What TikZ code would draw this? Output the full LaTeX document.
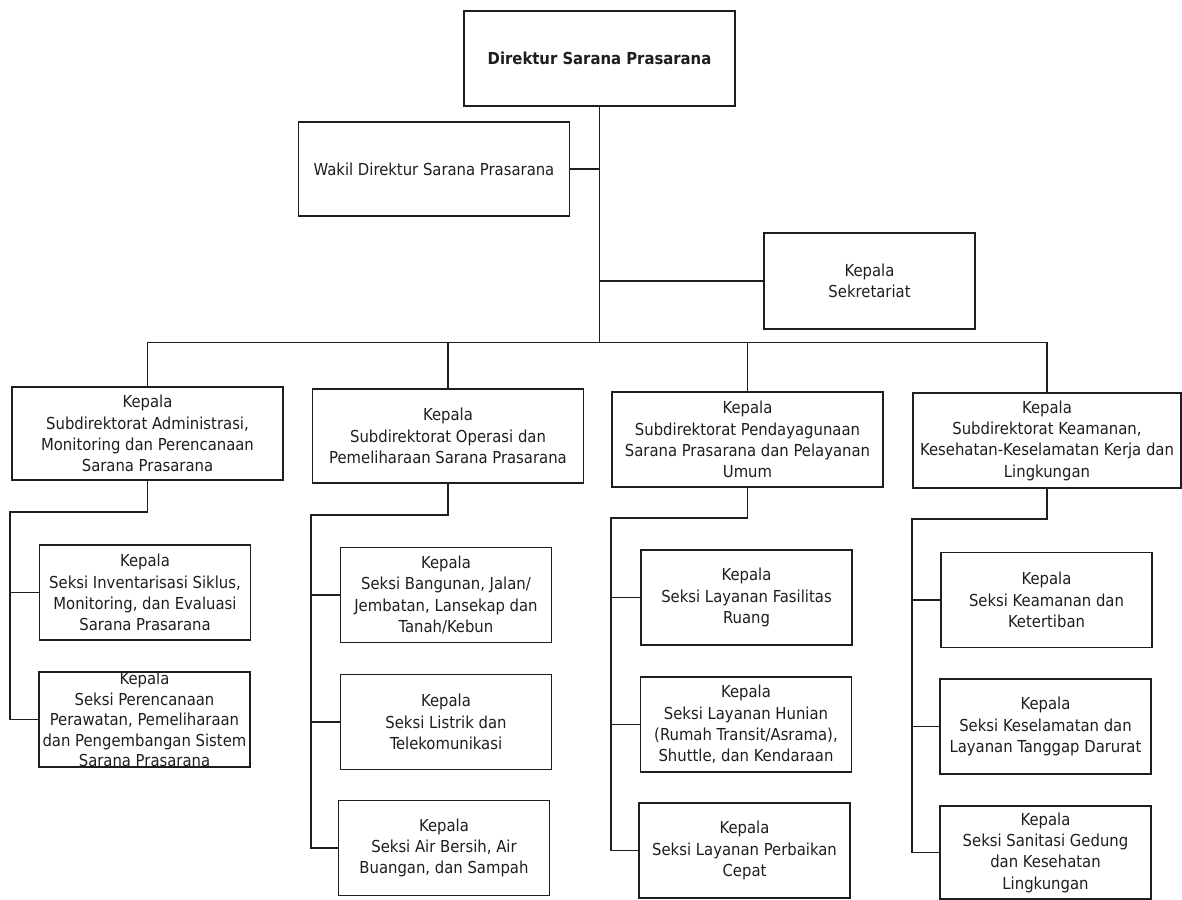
\documentclass[tikz,border=0pt]{standalone}
\usepackage{fontspec}
\setmainfont{DejaVu Sans Condensed}
\definecolor{ink}{HTML}{1E1E1E}
\begin{document}
\begin{tikzpicture}[x=1pt,y=-1pt,
  box/.style={draw=ink, line width=1.2pt, text=ink, align=center, inner sep=0pt,
              font=\fontsize{16.5}{21.3}\selectfont},
  unitbox/.style={box, minimum width=271pt, minimum height=94pt},
  secbox/.style={box, minimum width=211pt, minimum height=95pt},
  link/.style={draw=ink, line width=1.2pt}]
\useasboundingbox (0,0) rectangle (1182,899);

% top level
\node[box, minimum width=271pt, minimum height=95pt,
      font=\fontsize{16.5}{21.3}\selectfont\bfseries] (dir) at (599.5,58.5) {Direktur Sarana Prasarana};
\node[unitbox] (wakil) at (434,169) {Wakil Direktur Sarana Prasarana};
\node[secbox, minimum height=96pt] (sek) at (869.5,281) {Kepala\\Sekretariat};

% subdirectorates
\node[unitbox, minimum height=93pt] (s1) at (147.5,433.5) {Kepala\\Subdirektorat Administrasi,\\Monitoring dan Perencanaan\\Sarana Prasarana};
\node[unitbox] (s2) at (448,436) {Kepala\\Subdirektorat Operasi dan\\Pemeliharaan Sarana Prasarana};
\node[unitbox, minimum height=95pt] (s3) at (747.5,439.5) {Kepala\\Subdirektorat Pendayagunaan\\Sarana Prasarana dan Pelayanan\\Umum};
\node[unitbox, minimum width=268pt, minimum height=95pt] (s4) at (1047,440.5) {Kepala\\Subdirektorat Keamanan,\\Kesehatan-Keselamatan Kerja dan\\Lingkungan};

% sections
\node[secbox] (c1a) at (145,592.5) {Kepala\\Seksi Inventarisasi Siklus,\\Monitoring, dan Evaluasi\\Sarana Prasarana};
\node[secbox, font=\fontsize{16.5}{20.5}\selectfont] (c1b) at (144.5,719.5) {Kepala\\Seksi Perencanaan\\Perawatan, Pemeliharaan\\dan Pengembangan Sistem\\Sarana Prasarana};

\node[secbox] (c2a) at (446,595) {Kepala\\Seksi Bangunan, Jalan/\\Jembatan, Lansekap dan\\Tanah/Kebun};
\node[secbox] (c2b) at (446,722) {Kepala\\Seksi Listrik dan\\Telekomunikasi};
\node[secbox] (c2c) at (444,848) {Kepala\\Seksi Air Bersih, Air\\Buangan, dan Sampah};

\node[secbox] (c3a) at (746.5,597.5) {Kepala\\Seksi Layanan Fasilitas\\Ruang};
\node[secbox] (c3b) at (746,724.5) {Kepala\\Seksi Layanan Hunian\\(Rumah Transit/Asrama),\\Shuttle, dan Kendaraan};
\node[secbox] (c3c) at (744.5,850.5) {Kepala\\Seksi Layanan Perbaikan\\Cepat};

\node[secbox] (c4a) at (1046.5,600) {Kepala\\Seksi Keamanan dan\\Ketertiban};
\node[secbox] (c4b) at (1045.5,726.5) {Kepala\\Seksi Keselamatan dan\\Layanan Tanggap Darurat};
\node[secbox, minimum height=93pt] (c4c) at (1045.5,852.5) {Kepala\\Seksi Sanitasi Gedung\\dan Kesehatan\\Lingkungan};

% main trunk and bus
\coordinate (bus) at (599.5,342.5);
\draw[link] (dir.south) -- (bus);
\draw[link] (wakil.east) -- (wakil.east -| dir.south);
\draw[link] (sek.west) -- (sek.west -| dir.south);
\draw[link] (s1.north) |- (bus) -| (s4.north);
\draw[link] (s2.north) -- (s2.north |- bus);
\draw[link] (s3.north) -- (s3.north |- bus);

% section spines
\coordinate (j1) at (10,512);
\coordinate (j2) at (311,515);
\coordinate (j3) at (611,518);
\coordinate (j4) at (912,519);

\draw[link] (s1.south) |- (j1) |- (c1b.west);
\draw[link] (j1 |- c1a.west) -- (c1a.west);

\draw[link] (s2.south) |- (j2) |- (c2c.west);
\draw[link] (j2 |- c2a.west) -- (c2a.west);
\draw[link] (j2 |- c2b.west) -- (c2b.west);

\draw[link] (s3.south) |- (j3) |- (c3c.west);
\draw[link] (j3 |- c3a.west) -- (c3a.west);
\draw[link] (j3 |- c3b.west) -- (c3b.west);

\draw[link] (s4.south) |- (j4) |- (c4c.west);
\draw[link] (j4 |- c4a.west) -- (c4a.west);
\draw[link] (j4 |- c4b.west) -- (c4b.west);
\end{tikzpicture}
\end{document}
